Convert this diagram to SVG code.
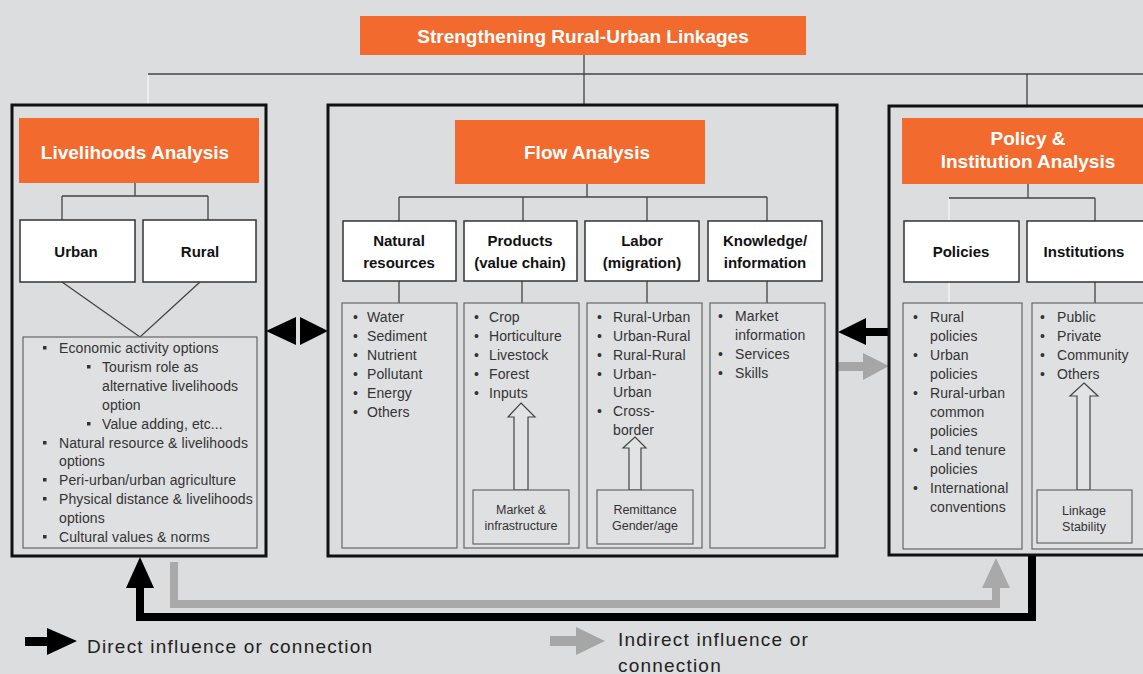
<svg xmlns="http://www.w3.org/2000/svg" width="1143" height="674" viewBox="0 0 1143 674">
<style>
.or{fill:#f26a2d}
.ot{fill:#fff;font-family:"Liberation Sans",Arial,sans-serif;font-weight:bold;font-size:19px;text-anchor:middle}
.big{fill:none;stroke:#111;stroke-width:3}
.cat{fill:#fff;stroke:#333;stroke-width:1.5}
.items{fill:#dfe0e2;stroke:#666;stroke-width:1.2}
.conn{fill:none;stroke:#444;stroke-width:1.3}
.wconn{fill:none;stroke:#f2f2f2;stroke-width:1.5}
.ct{fill:#111;font-family:"Liberation Sans",Arial,sans-serif;font-weight:bold;font-size:15px;text-anchor:middle}
.it{fill:#333;font-family:"Liberation Sans",Arial,sans-serif;font-size:14px;letter-spacing:0.1px}
.sm{fill:#333;font-family:"Liberation Sans",Arial,sans-serif;font-size:12.5px;text-anchor:middle}
.hol{fill:#e2e3e5;stroke:#444;stroke-width:1.2}
.sq{fill:#333}
.lg{fill:#222;font-family:"Liberation Sans",Arial,sans-serif;font-size:19px;letter-spacing:1.2px}
</style>
<rect width="1143" height="674" fill="#dcdddf"/>

<g id="connectors">
  <path class="conn" d="M584,55 V105 M148,74 H1143 M1027,74 V106"/>
  <path class="wconn" d="M148,75 V105"/>
  <path class="conn" d="M135,183 V196 M62,196 H208 M62,196 V220 M208,196 V220"/>
  <path class="conn" d="M62,282 L140,337 L200,282"/>
  <path class="conn" d="M587,184 V197 M399,197 H767 M399,197 V221 M523,197 V221 M647,197 V221 M767,197 V221"/>
  <path class="conn" d="M399,281 V303 M522,281 V303 M647,281 V303 M767,281 V303"/>
  <path class="conn" d="M1028,184 V198 M949,198 H1095 M1095,198 V221 M1095,282 V303"/>
  <path class="wconn" d="M949,199 V221 M949,282 V303"/>
  <polygon fill="#000" points="266,331 296,317 296,345"/>
  <polygon fill="#000" points="328,331 300,317 300,345"/>
  <polygon fill="#000" points="838,332 866,318 866,328 889,328 889,336 866,336 866,345"/>
  <polygon fill="#a6a6a6" points="889,366 863,353 863,362 836,362 836,371 863,371 863,380"/>
  <path d="M140,580 V617 H1032 V556" fill="none" stroke="#000" stroke-width="8"/>
  <polygon fill="#000" points="140,557 154,588 126,588"/>
  <path d="M174,562 V604 H996 V582" fill="none" stroke="#a9a9a9" stroke-width="8"/>
  <polygon fill="#a9a9a9" points="996,558 1010,588 982,588"/>
</g>

<g id="title">
  <rect class="or" x="360" y="16" width="446" height="39"/>
  <text class="ot" x="583" y="42.5">Strengthening Rural-Urban Linkages</text>
</g>

<g id="livelihoods">
  <rect class="big" x="12" y="105" width="254" height="451"/>
  <rect class="or" x="19" y="118" width="240" height="65"/>
  <text class="ot" x="135" y="158.5">Livelihoods Analysis</text>
</g>
<g id="urban"><rect class="cat" x="20" y="220" width="115" height="62"/><text class="ct" x="76" y="257">Urban</text></g>
<g id="rural"><rect class="cat" x="143" y="220" width="113" height="62"/><text class="ct" x="200" y="257">Rural</text></g>
<g id="livelihood-items">
  <rect class="items" x="23" y="337" width="234" height="211"/>
  <rect class="sq" x="43" y="346" width="3.5" height="3.5"/>
  <text class="it" x="59" y="353">Economic activity options</text>
  <rect class="sq" x="87" y="365" width="3.5" height="3.5"/>
  <text class="it" x="102" y="372">Tourism role as</text>
  <text class="it" x="102" y="391">alternative livelihoods</text>
  <text class="it" x="102" y="410">option</text>
  <rect class="sq" x="87" y="422" width="3.5" height="3.5"/>
  <text class="it" x="102" y="429">Value adding, etc...</text>
  <rect class="sq" x="43" y="441" width="3.5" height="3.5"/>
  <text class="it" x="59" y="448">Natural resource &amp; livelihoods</text>
  <text class="it" x="59" y="466">options</text>
  <rect class="sq" x="43" y="478" width="3.5" height="3.5"/>
  <text class="it" x="59" y="485">Peri-urban/urban agriculture</text>
  <rect class="sq" x="43" y="497" width="3.5" height="3.5"/>
  <text class="it" x="59" y="504">Physical distance &amp; livelihoods</text>
  <text class="it" x="59" y="523">options</text>
  <rect class="sq" x="43" y="535" width="3.5" height="3.5"/>
  <text class="it" x="59" y="542">Cultural values &amp; norms</text>
</g>

<g id="flow">
  <rect class="big" x="328" y="105" width="509" height="451"/>
  <rect class="or" x="455" y="120" width="250" height="64"/>
  <text class="ot" x="587" y="158.5">Flow Analysis</text>
</g>
<g id="natural-resources">
  <rect class="cat" x="343" y="221" width="113" height="60"/>
  <text class="ct" x="399" y="246">Natural</text><text class="ct" x="399" y="268">resources</text>
  <rect class="items" x="342" y="303" width="115" height="245"/>
  <text class="it" x="353" y="322">•</text><text class="it" x="367" y="322">Water</text>
  <text class="it" x="353" y="341">•</text><text class="it" x="367" y="341">Sediment</text>
  <text class="it" x="353" y="360">•</text><text class="it" x="367" y="360">Nutrient</text>
  <text class="it" x="353" y="379">•</text><text class="it" x="367" y="379">Pollutant</text>
  <text class="it" x="353" y="398">•</text><text class="it" x="367" y="398">Energy</text>
  <text class="it" x="353" y="417">•</text><text class="it" x="367" y="417">Others</text>
</g>
<g id="products">
  <rect class="cat" x="464" y="221" width="113" height="60"/>
  <text class="ct" x="520" y="246">Products</text><text class="ct" x="520" y="268">(value chain)</text>
  <rect class="items" x="464" y="303" width="115" height="245"/>
  <text class="it" x="474" y="322">•</text><text class="it" x="489" y="322">Crop</text>
  <text class="it" x="474" y="341">•</text><text class="it" x="489" y="341">Horticulture</text>
  <text class="it" x="474" y="360">•</text><text class="it" x="489" y="360">Livestock</text>
  <text class="it" x="474" y="379">•</text><text class="it" x="489" y="379">Forest</text>
  <text class="it" x="474" y="398">•</text><text class="it" x="489" y="398">Inputs</text>
  <polygon class="hol" points="521,403 535,417 528,417 528,490 514,490 514,417 508,417"/>
  <rect class="items" x="473" y="490" width="96" height="54"/>
  <text class="sm" x="521" y="514">Market &amp;</text><text class="sm" x="521" y="530">infrastructure</text>
</g>
<g id="labor">
  <rect class="cat" x="585" y="221" width="114" height="60"/>
  <text class="ct" x="642" y="246">Labor</text><text class="ct" x="642" y="268">(migration)</text>
  <rect class="items" x="587" y="303" width="115" height="245"/>
  <text class="it" x="597" y="322">•</text><text class="it" x="613" y="322">Rural-Urban</text>
  <text class="it" x="597" y="341">•</text><text class="it" x="613" y="341">Urban-Rural</text>
  <text class="it" x="597" y="360">•</text><text class="it" x="613" y="360">Rural-Rural</text>
  <text class="it" x="597" y="379">•</text><text class="it" x="613" y="379">Urban-</text>
  <text class="it" x="613" y="397">Urban</text>
  <text class="it" x="597" y="416">•</text><text class="it" x="613" y="416">Cross-</text>
  <text class="it" x="613" y="435">border</text>
  <polygon class="hol" points="635,437 646,448 641,448 641,490 629,490 629,448 623,448"/>
  <rect class="items" x="597" y="490" width="96" height="54"/>
  <text class="sm" x="645" y="514">Remittance</text><text class="sm" x="645" y="530">Gender/age</text>
</g>
<g id="knowledge">
  <rect class="cat" x="708" y="221" width="114" height="60"/>
  <text class="ct" x="765" y="246">Knowledge/</text><text class="ct" x="765" y="268">information</text>
  <rect class="items" x="710" y="303" width="115" height="245"/>
  <text class="it" x="718" y="321">•</text><text class="it" x="735" y="321">Market</text>
  <text class="it" x="735" y="340">information</text>
  <text class="it" x="718" y="359">•</text><text class="it" x="735" y="359">Services</text>
  <text class="it" x="718" y="378">•</text><text class="it" x="735" y="378">Skills</text>
</g>

<g id="policy-institution">
  <rect class="big" x="889" y="106" width="260" height="449"/>
  <rect class="or" x="902" y="118" width="245" height="66"/>
  <text class="ot" x="1028" y="145">Policy &amp;</text><text class="ot" x="1028" y="168">Institution Analysis</text>
</g>
<g id="policies">
  <rect class="cat" x="904" y="221" width="115" height="61"/>
  <text class="ct" x="961" y="257">Policies</text>
  <rect class="items" x="903" y="303" width="119" height="246"/>
  <text class="it" x="913" y="322">•</text><text class="it" x="930" y="322">Rural</text>
  <text class="it" x="930" y="341">policies</text>
  <text class="it" x="913" y="360">•</text><text class="it" x="930" y="360">Urban</text>
  <text class="it" x="930" y="379">policies</text>
  <text class="it" x="913" y="398">•</text><text class="it" x="930" y="398">Rural-urban</text>
  <text class="it" x="930" y="417">common</text>
  <text class="it" x="930" y="436">policies</text>
  <text class="it" x="913" y="455">•</text><text class="it" x="930" y="455">Land tenure</text>
  <text class="it" x="930" y="474">policies</text>
  <text class="it" x="913" y="493">•</text><text class="it" x="930" y="493">International</text>
  <text class="it" x="930" y="512">conventions</text>
</g>
<g id="institutions">
  <rect class="cat" x="1027" y="221" width="125" height="61"/>
  <text class="ct" x="1084" y="257">Institutions</text>
  <rect class="items" x="1032" y="303" width="120" height="246"/>
  <text class="it" x="1040" y="322">•</text><text class="it" x="1057" y="322">Public</text>
  <text class="it" x="1040" y="341">•</text><text class="it" x="1057" y="341">Private</text>
  <text class="it" x="1040" y="360">•</text><text class="it" x="1057" y="360">Community</text>
  <text class="it" x="1040" y="379">•</text><text class="it" x="1057" y="379">Others</text>
  <polygon class="hol" points="1084,383 1098,396 1090,396 1090,490 1077,490 1077,396 1070,396"/>
  <rect class="items" x="1037" y="490" width="95" height="53"/>
  <text class="sm" x="1084" y="515">Linkage</text><text class="sm" x="1084" y="531">Stability</text>
</g>

<g id="legend">
  <polygon fill="#000" points="25,637 47,637 47,628 77,641 47,655 47,646 25,646"/>
  <text class="lg" x="87" y="653">Direct influence or connection</text>
  <polygon fill="#a6a6a6" points="550,636 576,636 576,627 605,641 576,655 576,646 550,646"/>
  <text class="lg" x="618" y="646">Indirect influence or</text>
  <text class="lg" x="618" y="672">connection</text>
</g>
</svg>
